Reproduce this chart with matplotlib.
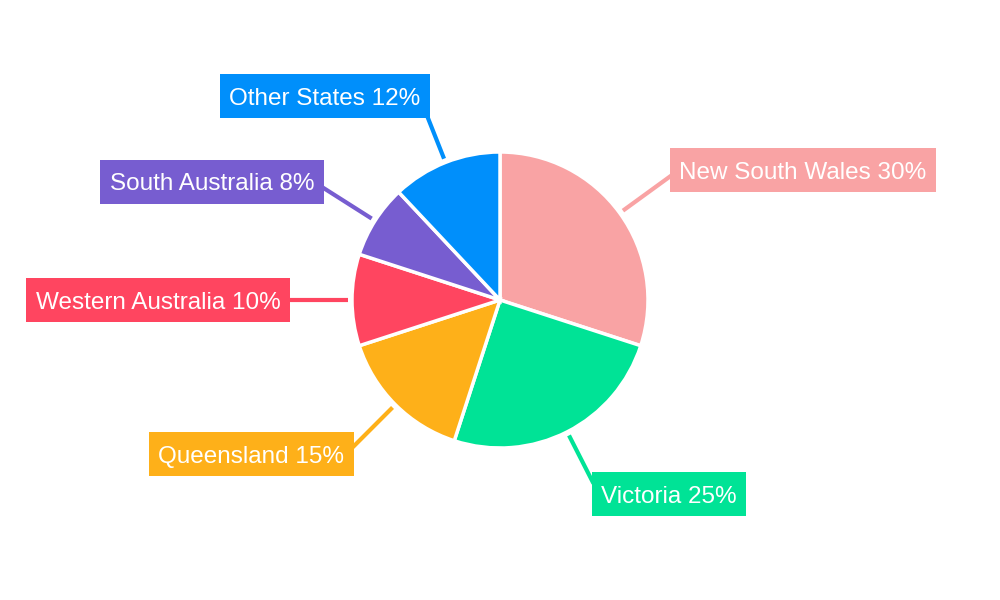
import numpy as np
import matplotlib
matplotlib.use("Agg")
import matplotlib.pyplot as plt
from matplotlib.patches import Rectangle

# Data
states = ["New South Wales", "Victoria", "Queensland", "Western Australia",
          "South Australia", "Other States"]
shares = [30, 25, 15, 10, 8, 12]
colors = ["#F9A3A4", "#00E396", "#FEB019", "#FF4560", "#775DD0", "#008FFB"]

# Layout (pixel space, y from top)
label_centers = [(803, 170), (669, 494), (251, 454), (158, 300), (212, 181.5), (325, 96)]
CX, CY, R = 500, 300, 148
BOX_H, PAD_X = 44, 9.5

plt.rcParams['font.family'] = ['Liberation Sans', 'DejaVu Sans']
fig = plt.figure(figsize=(10, 6), dpi=100)
ax = fig.add_axes([0, 0, 1, 1])

wedges, _ = ax.pie(shares, colors=colors, startangle=90, counterclock=False,
                   center=(CX, 600 - CY), radius=R,
                   wedgeprops=dict(edgecolor='white', linewidth=2.5))
ax.set_xlim(0, 1000)
ax.set_ylim(0, 600)
ax.set_aspect('equal')
ax.axis('off')

texts = []
for name, val, col, (lx, ly) in zip(states, shares, colors, label_centers):
    t = ax.text(lx, 600 - (ly + 9), f"{name} {val}%", color='white', fontsize=17.5,
                ha='center', va='baseline', zorder=6)
    texts.append(t)

fig.canvas.draw()
renderer = fig.canvas.get_renderer()
inv = ax.transData.inverted()
boxes = []
for t, col, (lx, ly) in zip(texts, colors, label_centers):
    bb = t.get_window_extent(renderer)
    (tx0, _), (tx1, _) = inv.transform([[bb.x0, bb.y0], [bb.x1, bb.y1]])
    x0, x1 = tx0 - PAD_X, tx1 + PAD_X
    y0, y1 = 600 - ly - BOX_H / 2, 600 - ly + BOX_H / 2
    ax.add_patch(Rectangle((x0, y0), x1 - x0, y1 - y0, fc=col, ec='none', zorder=5))
    boxes.append((x0, y0, x1, y1))

for w, (x0, y0, x1, y1), col in zip(wedges, boxes, colors):
    ang = np.deg2rad((w.theta1 + w.theta2) / 2)
    d = np.array([np.cos(ang), np.sin(ang)])
    c = np.array([CX, 600 - CY], dtype=float)
    tmin, tmax = -np.inf, np.inf
    for ci, di, lo, hi in ((c[0], d[0], x0, x1), (c[1], d[1], y0, y1)):
        if abs(di) < 1e-9:
            continue
        ta, tb = (lo - ci) / di, (hi - ci) / di
        tmin = max(tmin, min(ta, tb))
        tmax = min(tmax, max(ta, tb))
    if tmin > tmax or not np.isfinite(tmin):
        px = np.clip(c[0] + d[0] * 200, x0, x1)
        py = np.clip(c[1] + d[1] * 200, y0, y1)
        end = np.array([px, py])
    else:
        end = c + d * (tmin + 4)
    start = c + d * (R + 4)
    ax.plot([start[0], end[0]], [start[1], end[1]], color=col, lw=3,
            solid_capstyle='butt', zorder=4)

fig.savefig("out.png", dpi=100)
